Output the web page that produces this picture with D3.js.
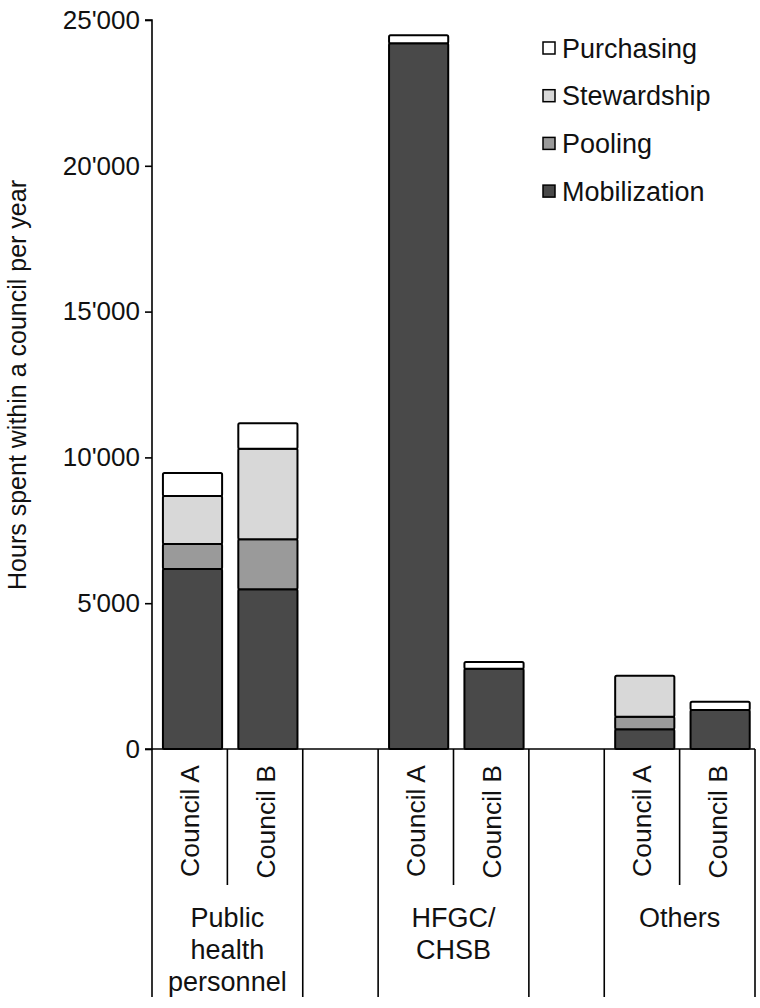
<!DOCTYPE html>
<html>
<head>
<meta charset="utf-8">
<script src="https://cdn.jsdelivr.net/npm/d3@7"></script>
<style>
  html, body { margin: 0; padding: 0; background: #fff; }
  text { font-family: "Liberation Sans", Arial, sans-serif; fill: #111; }
</style>
</head>
<body>
<svg id="chart" width="760" height="1008"></svg>
<script>
// ---- data ----
const groups = ["Public health personnel", "HFGC/ CHSB", "Others"];
const groupLines = [["Public", "health", "personnel"], ["HFGC/", "CHSB"], ["Others"]];
const councils = ["Council A", "Council B"];
const seriesNames = ["Mobilization", "Pooling", "Stewardship", "Purchasing"];
// order: PH A, PH B, HFGC A, HFGC B, Others A, Others B
const mobilization = [6170, 5480, 24200, 2750, 680, 1340];
const pooling      = [860, 1710, 0, 0, 430, 0];
const stewardship  = [1650, 3110, 0, 0, 1400, 0];
const purchasing   = [785, 870, 280, 230, 0, 280];
const yTicks = [0, 5000, 10000, 15000, 20000, 25000];
const seriesColors = ["#494949", "#9a9a9a", "#d8d8d8", "#ffffff"];

(function () {
const rows = [];
groups.forEach((g, gi) => councils.forEach((c, ci) => {
  const i = gi * 2 + ci;
  rows.push({ key: gi + "|" + ci, group: g, council: c,
    Mobilization: mobilization[i], Pooling: pooling[i],
    Stewardship: stewardship[i], Purchasing: purchasing[i] });
}));
const slotKeys = [];
groups.forEach((g, gi) => { slotKeys.push(gi + "|0", gi + "|1"); if (gi < groups.length - 1) slotKeys.push("gap" + gi); });

const svg = d3.select("#chart");
const mLeft = 152, mRight = 755, mTop = 20, mBottom = 749;
const x = d3.scaleBand().domain(slotKeys).range([mLeft, mRight]).padding(0);
const y = d3.scaleLinear().domain([0, 25000]).range([mBottom, mTop]);
const color = d3.scaleOrdinal().domain(seriesNames).range(seriesColors);
const bw = x.bandwidth();
const barOff = bw * 0.145, barW = bw * 0.785;

const stacked = d3.stack().keys(seriesNames)(rows);

stacked.forEach(s => {
  svg.append("g").selectAll("rect").data(s.filter(d => d[1] - d[0] > 0)).join("rect")
    .attr("x", d => x(d.data.key) + barOff)
    .attr("width", barW)
    .attr("y", d => y(d[1]))
    .attr("height", d => y(d[0]) - y(d[1]))
    .attr("fill", color(s.key))
    .attr("stroke", "#000")
    .attr("stroke-width", 2)
    .attr("rx", 1.5);
});

const yAxis = d3.axisLeft(y).tickValues(yTicks).tickSize(7).tickPadding(5)
  .tickFormat(d => d3.format(",")(d).replace(/,/g, "'"));
const ya = svg.append("g").attr("transform", `translate(${mLeft},0)`).call(yAxis);
ya.select(".domain").attr("stroke", "#000").attr("stroke-width", 1.6).attr("d", `M-7,${mTop}H0V${mBottom}H-7`);
ya.selectAll(".tick line").attr("stroke", "#000").attr("stroke-width", 1.6);
ya.selectAll(".tick text").attr("font-size", 26).attr("font-family", "Liberation Sans, Arial, sans-serif").attr("fill", "#111");

svg.append("line").attr("x1", mLeft).attr("x2", mRight).attr("y1", mBottom).attr("y2", mBottom)
  .attr("stroke", "#000").attr("stroke-width", 1.6);

const longEnd = 997, shortEnd = 885;
const boundaries = slotKeys.map(k => ({ x: x(k), long: !k.endsWith("|1") }));
boundaries.push({ x: mRight, long: true });
svg.append("g").selectAll("line").data(boundaries).join("line")
  .attr("x1", d => d.x).attr("x2", d => d.x)
  .attr("y1", mBottom).attr("y2", d => d.long ? longEnd : shortEnd)
  .attr("stroke", "#000").attr("stroke-width", 1.6);

svg.append("g").selectAll("text").data(rows).join("text")
  .attr("transform", d => `translate(${x(d.key) + bw / 2},765) rotate(-90)`)
  .attr("text-anchor", "end").attr("dy", "0.36em")
  .attr("font-size", 26.5).text(d => d.council);

groups.forEach((g, gi) => {
  const cx = (x(gi + "|0") + x(gi + "|1") + bw) / 2;
  const t = svg.append("text").attr("x", cx).attr("y", 927).attr("text-anchor", "middle").attr("font-size", 27);
  groupLines[gi].forEach((ln, li) => t.append("tspan").attr("x", cx).attr("dy", li === 0 ? 0 : 32).text(ln));
});

svg.append("text").attr("transform", "translate(17,385) rotate(-90)")
  .attr("text-anchor", "middle").attr("dy", "0.35em").attr("font-size", 25)
  .text("Hours spent within a council per year");

const legendOrder = seriesNames.slice().reverse();
const lg = svg.append("g").selectAll("g").data(legendOrder).join("g")
  .attr("transform", (d, i) => `translate(543,${48 + i * 47.7})`);
lg.append("rect").attr("x", 0).attr("y", -6).attr("width", 12).attr("height", 12)
  .attr("fill", d => color(d)).attr("stroke", "#000").attr("stroke-width", 1.5);
lg.append("text").attr("x", 19).attr("dy", "0.36em").attr("font-size", 27).text(d => d);
})();
</script>
</body>
</html>
